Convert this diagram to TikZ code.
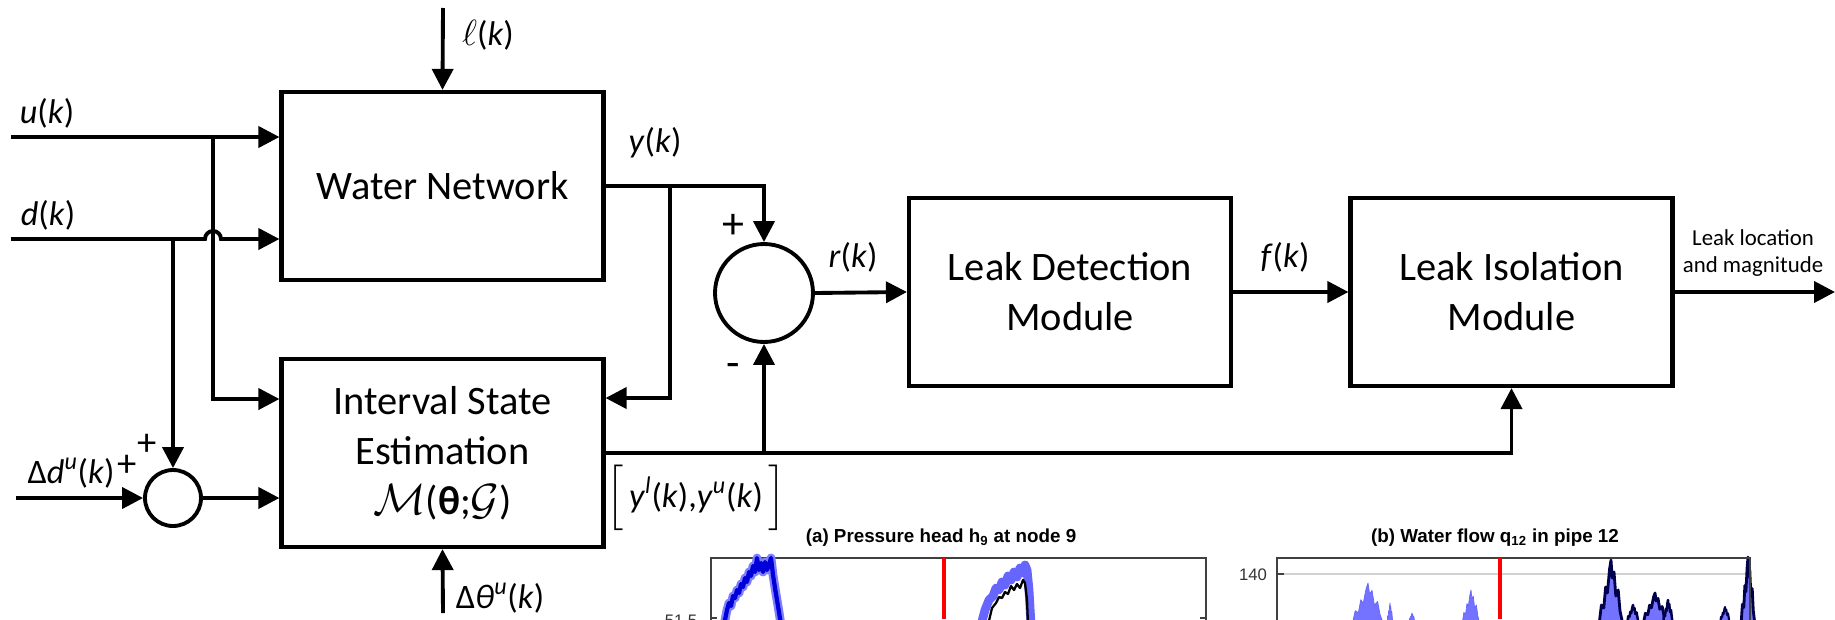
\documentclass[tikz,border=0pt]{standalone}
\usepackage{amsmath}
\usepackage{fontspec}
\setmainfont{Carlito}
\newfontfamily\plotfont{Liberation Sans}
\usepackage{tikz}
\usetikzlibrary{arrows.meta,positioning,calc}

\newcommand{\kk}{(\textit{k})}
\tikzset{
  blockbox/.style={draw, line width=2.4pt, minimum width=6.44cm, minimum height=3.76cm,
    align=center, inner sep=0pt, font=\fontsize{23}{28.5}\selectfont},
  sumnode/.style={draw, circle, line width=2.2pt, inner sep=0pt},
  sig/.style={line width=2.2pt, -{Triangle[length=0.42cm,width=0.42cm]}},
  lbl/.style={inner sep=0pt, font=\fontsize{19.5}{23}\selectfont},
  signlbl/.style={inner sep=0pt, font=\fontsize{25}{28}\selectfont},
  plotframe/.style={draw=black!75, line width=1.2pt},
  leakline/.style={draw=red, line width=2.6pt},
  peakfill/.style={fill=blue!55, line join=round},
}

\begin{document}
\begin{tikzpicture}[x=0.02cm, y=-0.02cm]
    \useasboundingbox (0,0) rectangle (1835,619);

    % Blocks
    \node[blockbox] (wn) at (442.5,186) {Water Network};
    \node[blockbox] (ise) at (442.5,453) {Interval State\\Estimation\\$\mathcal{M}$(\textbf{θ};$\mathcal{G}$)};
    \node[blockbox] (ld) at (1070,292) {Leak Detection\\Module};
    \node[blockbox] (li) at (1511.5,292) {Leak Isolation\\Module};
    \node[sumnode, minimum size=1.96cm] (sumr) at (764,293) {};
    \node[sumnode, minimum size=1.12cm] (sumd) at (173,498) {};

    % Free ends and branch points
    \coordinate (lin) at (443,8);
    \coordinate (uin) at (11,137);
    \coordinate (din) at (11,239);
    \coordinate (ddin) at (16,498);
    \coordinate (thin) at (443,613);
    \coordinate (outr) at (1835,292);
    \coordinate (ubr) at (213,137);
    \coordinate (dbr) at (173,239);
    \coordinate (hop) at (205,239);
    \coordinate (ybr) at (670,186);
    \coordinate (ebr) at (764,453);

    % Connectors
    \draw[sig] (lin) -- (wn.north);
    \draw[sig] (uin) -- (uin -| wn.west);
    \draw[sig] (din) -- (hop) arc (180:360:8) -- (din -| wn.west);
    \draw[sig] (ubr) |- ([yshift=1.08cm]ise.west);
    \draw[sig] (dbr) -- (sumd.north);
    \draw[sig] (ddin) -- (sumd.west);
    \draw[sig] (sumd.east) -- (sumd.east -| ise.west);
    \draw[sig] (thin) -- (ise.south);
    \draw[sig] (wn.east) -| (sumr.north);
    \draw[sig] (ybr) |- ([yshift=1.1cm]ise.east);
    \draw[sig] (ise.east) -| (li.south);
    \draw[sig] (ebr) -- (sumr.south);
    \draw[sig] (sumr.east) -- (ld.west);
    \draw[sig] (ld.east) -- (li.west);
    \draw[sig] (li.east) -- (outr);

    % Signal labels
    \node[lbl] (lblell) at (488,35) {$\ell$\kk};
    \node[lbl] (lblu) at (47,113) {\textit{u}\kk};
    \node[lbl] (lbld) at (48,215) {\textit{d}\kk};
    \node[lbl] (lbldd) at (71,473) {Δ\textit{d}\textsuperscript{\textit{u}}\kk};
    \node[signlbl, font=\fontsize{22}{26}\selectfont] (plusdd) at (127,466) {+};
    \node[signlbl, font=\fontsize{22}{26}\selectfont] (plusd) at (147,445) {+};
    \node[lbl] (lblth) at (500,598) {Δ\textit{θ}\textsuperscript{\textit{u}}\kk};
    \node[lbl] (lbly) at (655,143) {\textit{y}\kk};
    \node[signlbl] (plusy) at (733,226) {+};
    \node[signlbl] (minuse) at (733,370) {-};
    \node[lbl] (lblr) at (853,257) {\textit{r}\kk};
    \node[lbl] (lblf) at (1285,257) {\textit{f}\kk};
    \node[lbl] (lblint) at (696,498) {$\Bigl[$\,\textit{y}\textsuperscript{\textit{l}}\kk,\textit{y}\textsuperscript{\textit{u}}\kk\,$\Bigr]$};
    \node[inner sep=0pt, align=center, font=\fontsize{13}{15.5}\selectfont] (lblout) at (1753,253) {Leak location\\and magnitude};

    % Plot snippets
    \node[inner sep=0pt, font=\plotfont\bfseries\fontsize{10.7}{12}\selectfont] (ttla) at (941,538) {(a) Pressure head h\textsubscript{9} at node 9};
    \node[inner sep=0pt, font=\plotfont\bfseries\fontsize{10.7}{12}\selectfont] (ttlb) at (1495,538) {(b) Water flow q\textsubscript{12} in pipe 12};
    \node[inner sep=0pt, font=\plotfont\fontsize{9.5}{11}\selectfont, text=black!80] (tka) at (681,621) {51.5};
    \node[inner sep=0pt, font=\plotfont\fontsize{9.5}{11}\selectfont, text=black!80] (tkb) at (1253,575) {140};
    \begin{scope}
        \clip (600,545) rectangle (1835,619);
        % (a) pressure head
        \draw[plotframe] (711,558) rectangle (1206,680);
        \draw[plotframe] (711,618) -- (717,618) (1200,618) -- (1206,618);
        \foreach \bw/\bc in {5/blue!50, 2.4/blue!85!black} {
            \draw[\bc, line width=\bw pt, line join=round] plot coordinates {(724,625) (727,610) (729,603) (731,606) (733,596) (735,598) (737,590) (739,593) (741,584) (743,587) (745,578) (747,582) (749,572) (751,576) (753,566) (755,572) (757,558) (759,570) (761,563) (763,572) (765,562) (767,570) (769,565) (771,558) (773,575) (775,588) (777,600) (779,612) (781,625)};
        }
        \draw[blue!60, line width=5pt, line join=round] plot coordinates {(981,625) (985,610) (989,600) (993,596) (996,588) (999,590) (1002,582) (1005,585) (1008,576) (1011,580) (1014,572) (1017,577) (1020,568) (1023,573) (1025,565) (1027,570) (1029,590) (1031,625)};
        \draw[black, line width=1.3pt, line join=round] plot coordinates {(988,625) (992,608) (996,603) (999,597) (1002,598) (1005,592) (1008,594) (1011,586) (1014,590) (1017,584) (1020,588) (1023,580) (1025,583) (1027,600) (1028,625)};
        \draw[leakline] (944,558) -- (944,619);
        % (b) water flow
        \draw[gray!35, line width=0.8pt] (1276,574) -- (1750,574);
        \foreach \px/\py/\pw/\pc/\lw in {1368/583/16/blue!60/0.4, 1390/603/3/blue!60/0.4, 1412/613/3/blue!60/0.4,
            1471/590/9/blue!60/0.4, 1611/560/12/blue!30!black/1.6, 1633/605/6/blue!30!black/1.4,
            1655/593/12/blue!30!black/1.6, 1668/600/5/blue!30!black/1.4, 1725/607/5/blue!30!black/1.2,
            1748/557/7/blue!30!black/1.6} {
            \draw[peakfill, draw=\pc, line width=\lw pt] (\px-\pw,625)
                -- (\px-0.8*\pw,{\py+0.75*(620-\py)}) -- (\px-0.6*\pw,{\py+0.8*(620-\py)})
                -- (\px-0.45*\pw,{\py+0.45*(620-\py)}) -- (\px-0.3*\pw,{\py+0.55*(620-\py)})
                -- (\px-0.12*\pw,{\py+0.15*(620-\py)}) -- (\px,\py)
                -- (\px+0.1*\pw,{\py+0.3*(620-\py)}) -- (\px+0.25*\pw,{\py+0.2*(620-\py)})
                -- (\px+0.4*\pw,{\py+0.6*(620-\py)}) -- (\px+0.6*\pw,{\py+0.5*(620-\py)})
                -- (\px+0.75*\pw,{\py+0.85*(620-\py)}) -- (\px+\pw,625) -- cycle;
        }
        \draw[plotframe] (1277,558) rectangle (1750,680);
        \draw[plotframe] (1277,574) -- (1284,574);
        \draw[leakline] (1500,558) -- (1500,619);
    \end{scope}
\end{tikzpicture}
\end{document}
